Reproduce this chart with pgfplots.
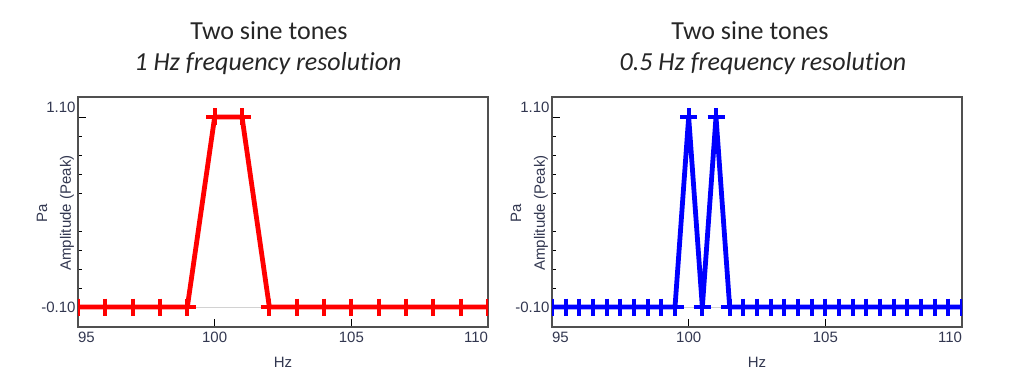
\documentclass[border=0pt]{standalone}
\usepackage{pgfplots}
\pgfplotsset{compat=1.18}
\usepackage{fontspec}
\setmainfont{Liberation Sans}
\newfontfamily\titlefont[Ligatures=NoCommon]{Carlito}
\definecolor{axcol}{RGB}{80,80,80}
\definecolor{labcol}{RGB}{50,55,80}
\definecolor{titcol}{RGB}{38,38,38}
\pgfplotsset{
  myaxis/.style={
    scale only axis, width=410pt, height=230pt,
    xmin=95, xmax=110, ymin=-0.2263, ymax=1.2263,
    axis line style={axcol, line width=1.4pt},
    tick align=inside,
    xtick pos=bottom, ytick pos=left,
    xtick={95,100,105,110},
    xticklabels={\makebox[0pt][l]{95},100,105,\makebox[0pt][r]{110}},
    ytick={1.1},
    yticklabels={1.10},
    yticklabel style={yshift=10pt, xshift=1pt},
    extra y ticks={-0.1},
    extra y tick labels={-0.10},
    extra y tick style={yticklabel style={yshift=-10pt}, major tick length=0pt},
    major tick length=8pt,
    minor tick length=4.3pt,
    minor ytick={0.02,0.14,0.26,0.38,0.62,0.74,0.86,0.98},
    tick style={black, line width=0.8pt},
    ticklabel style={font=\fontsize{15}{17}\selectfont, text=labcol},
    xticklabel style={yshift=-1pt},
    clip=true, clip marker paths=true,
  },
  redline/.style={red, line width=4.8pt, line join=round, mark=+, mark size=8.5pt, mark options={line width=4pt}},
  blueline/.style={blue, line width=4.8pt, line join=round, mark=+, mark size=8.5pt, mark options={line width=4pt}},
}
\begin{document}
\begin{tikzpicture}
\useasboundingbox (0pt,0pt) rectangle (1024pt,391pt);
% left
\begin{axis}[myaxis, at={(78pt,64pt)}, anchor=south west]
\addplot[gray!35, line width=0.6pt] coordinates {(95,-0.1) (110,-0.1)};
\addplot[redline] coordinates {
(95,-0.1) (96,-0.1) (97,-0.1) (98,-0.1) (99,-0.1) (100,1.1) (101,1.1) (102,-0.1)
(103,-0.1) (104,-0.1) (105,-0.1) (106,-0.1) (107,-0.1) (108,-0.1) (109,-0.1) (110,-0.1)};
\draw[black, line width=0.8pt] (axis cs:95,1.1) -- ++(15pt,0);
\draw[black, line width=0.8pt] (axis cs:95,-0.1) -- ++(13pt,0);
\draw[black, line width=0.8pt] (axis cs:95,0.5) -- ++(7.5pt,0);
\end{axis}
% right
\begin{axis}[myaxis, at={(552pt,64pt)}, anchor=south west]
\addplot[gray!35, line width=0.6pt] coordinates {(95,-0.1) (110,-0.1)};
\addplot[blueline] coordinates {
(95,-0.1) (95.5,-0.1) (96,-0.1) (96.5,-0.1) (97,-0.1) (97.5,-0.1) (98,-0.1) (98.5,-0.1)
(99,-0.1) (99.5,-0.1) (100,1.1) (100.5,-0.1) (101,1.1) (101.5,-0.1) (102,-0.1) (102.5,-0.1)
(103,-0.1) (103.5,-0.1) (104,-0.1) (104.5,-0.1) (105,-0.1) (105.5,-0.1) (106,-0.1) (106.5,-0.1)
(107,-0.1) (107.5,-0.1) (108,-0.1) (108.5,-0.1) (109,-0.1) (109.5,-0.1) (110,-0.1)};
\draw[black, line width=0.8pt] (axis cs:95,1.1) -- ++(15pt,0);
\draw[black, line width=0.8pt] (axis cs:95,-0.1) -- ++(13pt,0);
\draw[black, line width=0.8pt] (axis cs:95,0.5) -- ++(7.5pt,0);
\end{axis}
% titles
\node[text=titcol, font=\titlefont\fontsize{26}{30}\selectfont] at (269pt,360pt) {Two sine tones};
\node[text=titcol, font=\titlefont\itshape\fontsize{26}{30}\selectfont] at (268pt,327pt) {1 Hz frequency resolution};
\node[text=titcol, font=\titlefont\fontsize{26}{30}\selectfont] at (750pt,360pt) {Two sine tones};
\node[text=titcol, font=\titlefont\itshape\fontsize{26}{30}\selectfont] at (763pt,327pt) {0.5 Hz frequency resolution};
% axis labels
\foreach \dx in {0,474} {
  \node[text=labcol, font=\fontsize{15}{17}\selectfont, rotate=90] at ({42pt+\dx pt},178pt) {Pa};
  \node[text=labcol, font=\fontsize{15}{17}\selectfont, rotate=90] at ({67pt+\dx pt},178pt) {Amplitude (Peak)};
  \node[text=labcol, font=\fontsize{15}{17}\selectfont] at ({283pt+\dx pt},29pt) {Hz};
}
\end{tikzpicture}
\end{document}
